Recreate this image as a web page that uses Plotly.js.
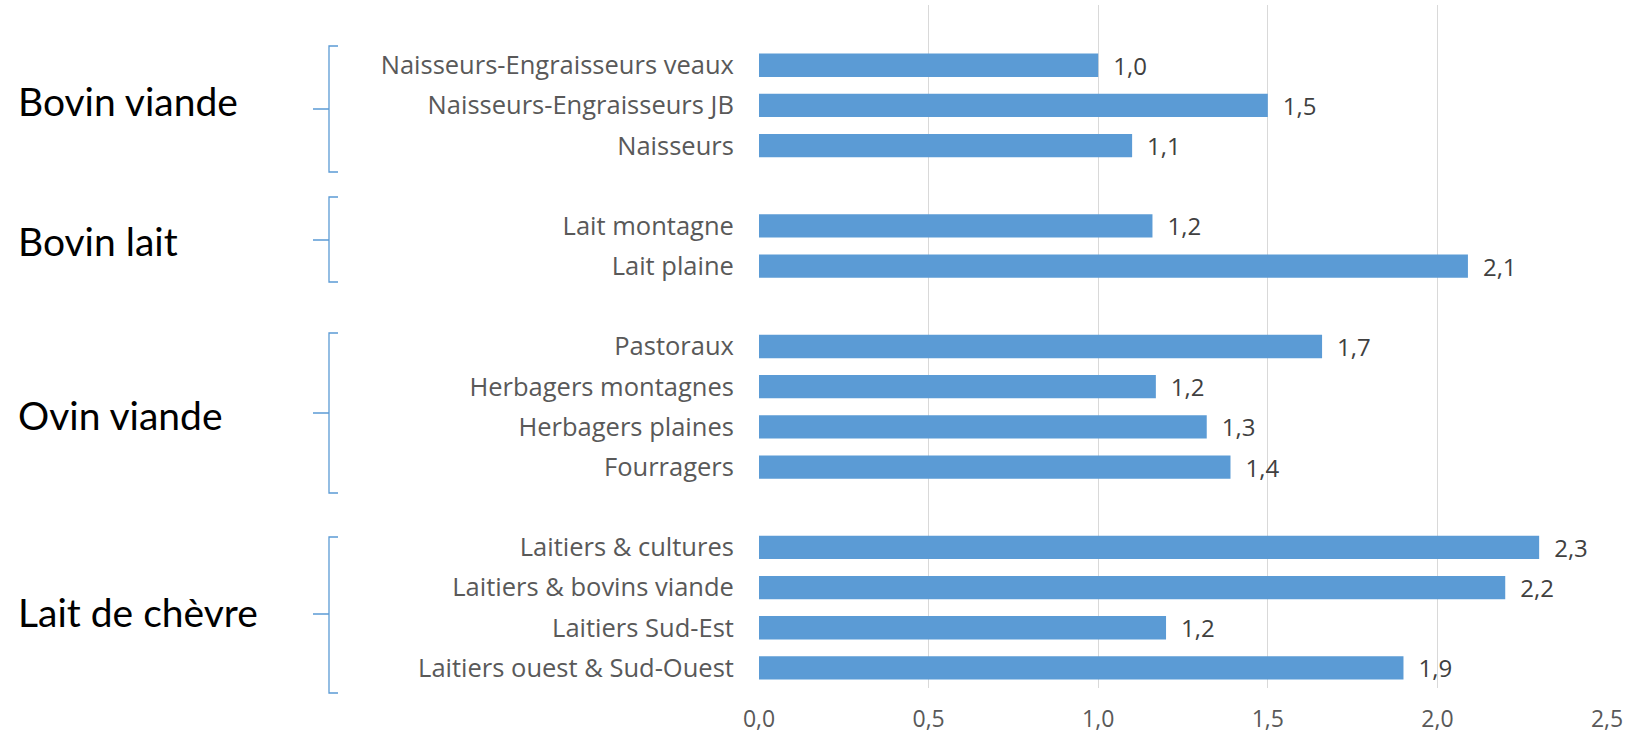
<!DOCTYPE html>
<html>
<head>
<meta charset="utf-8">
<script src="https://cdn.plot.ly/plotly-3.0.1.min.js"></script>
<style>html,body{margin:0;padding:0;background:#fff;}#chart{width:1630px;height:740px;}</style>
</head>
<body>
<div id="chart"></div>
<script>
// ---- Data ----
const groupNames = ['Bovin viande', 'Bovin lait', 'Ovin viande', 'Lait de chèvre'];

const bovinViandeCats = ['Naisseurs-Engraisseurs veaux', 'Naisseurs-Engraisseurs JB', 'Naisseurs'];
const bovinViandeVals = [1.00, 1.50, 1.10];

const bovinLaitCats = ['Lait montagne', 'Lait plaine'];
const bovinLaitVals = [1.16, 2.09];

const ovinViandeCats = ['Pastoraux', 'Herbagers montagnes', 'Herbagers plaines', 'Fourragers'];
const ovinViandeVals = [1.66, 1.17, 1.32, 1.39];

const laitChevreCats = ['Laitiers & cultures', 'Laitiers & bovins viande', 'Laitiers Sud-Est', 'Laitiers ouest & Sud-Ouest'];
const laitChevreVals = [2.30, 2.20, 1.20, 1.90];

const xTickVals = [0, 0.5, 1.0, 1.5, 2.0, 2.5];

// ---- Build category list with blank spacer rows between groups ----
const groupCats = [bovinViandeCats, bovinLaitCats, ovinViandeCats, laitChevreCats];
const groupVals = [bovinViandeVals, bovinLaitVals, ovinViandeVals, laitChevreVals];
const cats = [' '];
const vals = [null];
groupCats.forEach((gc, i) => {
  if (i > 0) { cats.push(' '.repeat(i + 1)); vals.push(null); }
  gc.forEach((c, j) => { cats.push(c); vals.push(groupVals[i][j]); });
});

// ---- Layout geometry helpers (pixel -> paper) ----
const W = 1630, H = 740;
const M = {l: 759, r: 23, t: 5, b: 52};
const PW = W - M.l - M.r, PH = H - M.t - M.b;
const px = x => (x - M.l) / PW;
const py = y => (H - M.b - y) / PH;

function bracket(top, mid, bottom) {
  const xv = 329, xt = 338, xn = 313;
  return {
    type: 'path', xref: 'paper', yref: 'paper',
    path: `M ${px(xt)},${py(top)} L ${px(xv)},${py(top)} L ${px(xv)},${py(mid)} L ${px(xn)},${py(mid)} M ${px(xv)},${py(mid)} L ${px(xv)},${py(bottom)} L ${px(xt)},${py(bottom)}`,
    line: {color: '#5B9BD5', width: 1.3}
  };
}

const brackets = [
  [46, 109, 172],
  [197, 240, 282],
  [333, 413, 493],
  [537, 614, 693]
];
const groupLabelY = [101, 241, 415, 612];

const trace = {
  type: 'bar',
  orientation: 'h',
  y: cats,
  x: vals,
  marker: {color: '#5B9BD5'},
  texttemplate: '\u2002%{x:.1f}',
  textposition: 'outside',
  constraintext: 'none',
  cliponaxis: false,
  textfont: {family: 'Open Sans, sans-serif', size: 24, color: '#404040'},
  hoverinfo: 'skip'
};

const layout = {
  width: W, height: H,
  margin: M,
  paper_bgcolor: '#fff', plot_bgcolor: '#fff',
  separators: ', ',
  bargap: 0.42,
  showlegend: false,
  xaxis: {
    range: [0, 2.5],
    tickvals: xTickVals,
    tickformat: '.1f',
    showgrid: true, gridcolor: '#D9D9D9', gridwidth: 1.3,
    zeroline: false, showline: false,
    ticks: 'outside', ticklen: 10, tickcolor: 'rgba(0,0,0,0)',
    tickfont: {family: 'Open Sans, sans-serif', size: 23, color: '#595959'},
    fixedrange: true
  },
  yaxis: {
    type: 'category',
    categoryorder: 'array', categoryarray: cats,
    autorange: 'reversed',
    showgrid: false, zeroline: false, showline: false,
    ticks: 'outside', ticklen: 19, tickcolor: 'rgba(0,0,0,0)',
    tickfont: {family: 'Open Sans, sans-serif', size: 25.5, color: '#595959'},
    fixedrange: true
  },
  shapes: brackets.map(b => bracket(b[0], b[1], b[2])),
  annotations: groupNames.map((g, i) => ({
    text: g, xref: 'paper', yref: 'paper',
    x: px(16), y: py(groupLabelY[i]),
    xanchor: 'left', yanchor: 'middle',
    showarrow: false,
    font: {family: 'Lato, sans-serif', size: 39, color: '#000'}
  }))
};

Plotly.newPlot('chart', [trace], layout, {displayModeBar: false, staticPlot: true});
</script>
</body>
</html>
